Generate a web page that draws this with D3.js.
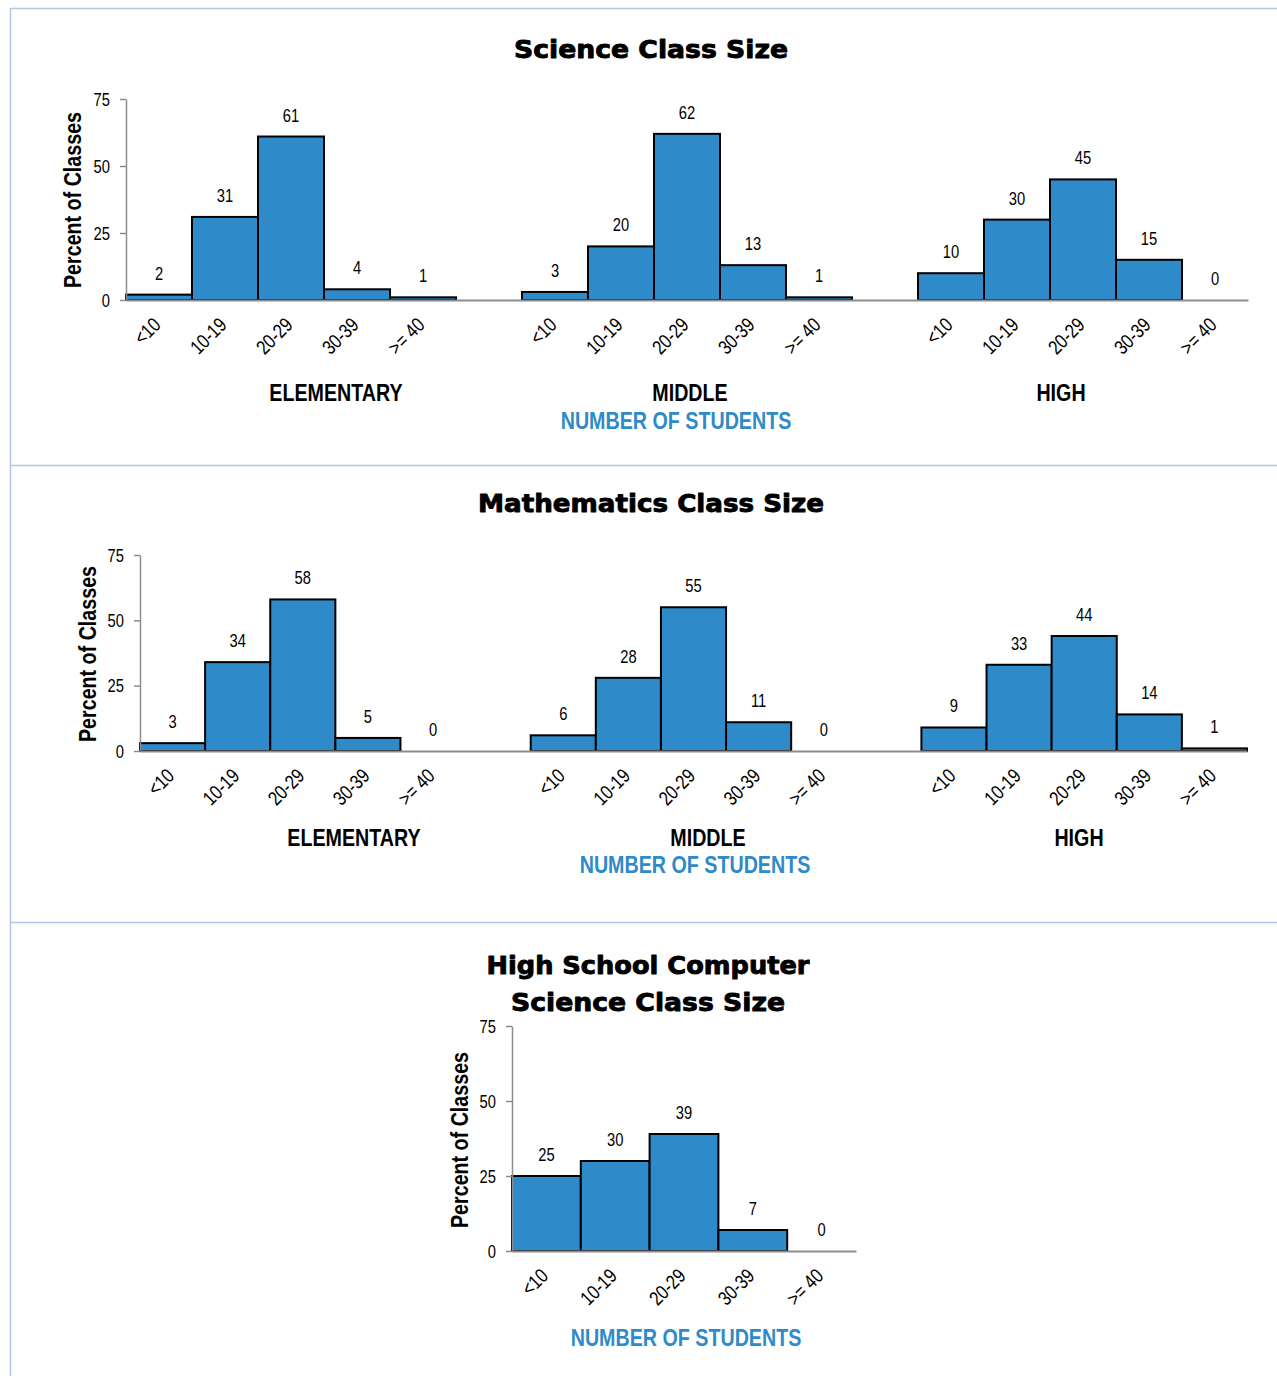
<!DOCTYPE html>
<html><head><meta charset="utf-8">
<script src="https://cdn.jsdelivr.net/npm/d3@7/dist/d3.min.js"></script>
<style>body{margin:0;background:#fff}</style>
</head><body><svg id="c" width="1277" height="1376"></svg>
<script>
// ---- data ----
const binLabels = ["<10", "10-19", "20-29", "30-39", ">= 40"];
const levelNames = ["ELEMENTARY", "MIDDLE", "HIGH"];
const scienceElementary = [2, 31, 61, 4, 1];
const scienceMiddle = [3, 20, 62, 13, 1];
const scienceHigh = [10, 30, 45, 15, 0];
const mathElementary = [3, 34, 58, 5, 0];
const mathMiddle = [6, 28, 55, 11, 0];
const mathHigh = [9, 33, 44, 14, 1];
const csHigh = [25, 30, 39, 7, 0];
const yTicks = [0, 25, 50, 75];
const yMax = 75;
const yTitle = "Percent of Classes";
const xTitle = "NUMBER OF STUDENTS";

// ---- style ----
const BAR = "#2e8ac8", AXIS = "#8c8c8c", FRAME = "#b4c6e7", BLUE = "#2e8ac8";
const NARROW = 0.82;
const FONT = "'Liberation Sans', Arial, sans-serif";
const TFONT = "'Arial Black', 'DejaVu Sans', sans-serif";

const svg = d3.select("#c");

// frame
svg.append("line").attr("x1", 10).attr("x2", 1277).attr("y1", 8.5).attr("y2", 8.5).attr("stroke", FRAME).attr("stroke-width", 1.5);
svg.append("line").attr("x1", 10.5).attr("x2", 10.5).attr("y1", 8).attr("y2", 1376).attr("stroke", FRAME).attr("stroke-width", 1.5);
[465.5, 922.5].forEach(yy => svg.append("line").attr("x1", 10).attr("x2", 1277).attr("y1", yy).attr("y2", yy).attr("stroke", FRAME).attr("stroke-width", 1.5));

function narrowText(g, x, y, txt, size, opts = {}) {
  const t = g.append("text")
    .attr("transform", `translate(${x},${y})${opts.rotate ? ` rotate(${opts.rotate})` : ""} scale(${NARROW},1)`)
    .attr("font-family", FONT).attr("font-size", size)
    .attr("font-weight", opts.bold ? "bold" : "normal")
    .attr("text-anchor", opts.anchor || "middle")
    .attr("fill", opts.fill || "#000")
    .text(txt);
  return t;
}

function drawChart(cfg) {
  const g = svg.append("g");
  const keys = [];
  cfg.groups.forEach((grp, gi) => {
    if (gi > 0) keys.push("gap" + gi);
    binLabels.forEach(b => keys.push(gi + "|" + b));
  });
  const bars = [];
  cfg.groups.forEach((grp, gi) => grp.values.forEach((v, i) => bars.push({ key: gi + "|" + binLabels[i], v })));

  const x = d3.scaleBand().domain(keys).range([cfg.x0, cfg.x1]).paddingInner(0).paddingOuter(0);
  const y = d3.scaleLinear().domain([0, yMax]).range([cfg.yBase, cfg.yTop]);

  // titles
  cfg.title.forEach((line, i) => {
    g.append("text").attr("x", cfg.titleX).attr("y", cfg.titleY[i])
      .attr("font-family", TFONT).attr("font-weight", "bold").attr("font-size", 25)
      .attr("text-anchor", "middle")
      .attr("stroke", "#000").attr("stroke-width", 0.9).attr("stroke-linejoin", "round")
      .attr("textLength", cfg.titleW[i]).attr("lengthAdjust", "spacingAndGlyphs")
      .text(line);
  });

  // bars
  g.selectAll("rect.bar").data(bars.filter(d => d.v > 0)).join("rect")
    .attr("class", "bar")
    .attr("x", d => x(d.key)).attr("width", x.bandwidth())
    .attr("y", d => y(d.v)).attr("height", d => y(0) - y(d.v))
    .attr("fill", BAR).attr("stroke", "#000").attr("stroke-width", 2);

  // x axis
  const xa = g.append("g").attr("transform", `translate(0,${cfg.yBase})`)
    .call(d3.axisBottom(x).tickSize(0).tickSizeOuter(0).tickFormat(k => k.startsWith("gap") ? "" : k.split("|")[1]));
  xa.select(".domain").attr("stroke", AXIS).attr("stroke-width", 2);
  xa.selectAll(".tick text")
    .attr("x", null).attr("y", null).attr("dy", null)
    .attr("transform", `translate(3,26) rotate(-45) scale(${NARROW},1)`)
    .attr("text-anchor", "end").attr("font-family", FONT).attr("font-size", 20).attr("fill", "#000");

  // y axis
  const ya = g.append("g").attr("transform", `translate(${cfg.x0},0)`)
    .call(d3.axisLeft(y).tickValues(yTicks).tickSize(6).tickSizeOuter(0).tickPadding(10));
  ya.select(".domain").attr("stroke", AXIS).attr("stroke-width", 1.5);
  ya.selectAll(".tick line").attr("stroke", AXIS).attr("stroke-width", 1.5);
  ya.selectAll(".tick text")
    .attr("x", -16 / NARROW).attr("dy", "0.34em")
    .attr("transform", `scale(${NARROW},1)`)
    .attr("font-family", FONT).attr("font-size", 18).attr("fill", "#000");

  // value labels
  bars.forEach(d => {
    narrowText(g, x(d.key) + x.bandwidth() / 2, y(d.v) - 15, String(d.v), 18);
  });

  // group labels
  cfg.groups.forEach((grp, gi) => {
    if (grp.name) narrowText(g, cfg.x0 + cfg.groupDx[gi], cfg.groupY, grp.name, 24, { bold: true });
  });
  narrowText(g, cfg.x0 + cfg.nosDx, cfg.nosY, xTitle, 24, { bold: true, fill: BLUE });

  // y title
  narrowText(g, cfg.yLabelX, cfg.yLabelY, yTitle, 24, { bold: true, rotate: -90 });
}

drawChart({
  title: ["Science Class Size"], titleX: 651, titleY: [58], titleW: [274],
  groups: [
    { name: levelNames[0], values: scienceElementary },
    { name: levelNames[1], values: scienceMiddle },
    { name: levelNames[2], values: scienceHigh }],
  x0: 126, x1: 1248, yTop: 99, yBase: 300,
  groupDx: [210, 564, 935], groupY: 401, nosDx: 550, nosY: 428.5,
  yLabelX: 81, yLabelY: 200
});

drawChart({
  title: ["Mathematics Class Size"], titleX: 651, titleY: [512], titleW: [346],
  groups: [
    { name: levelNames[0], values: mathElementary },
    { name: levelNames[1], values: mathMiddle },
    { name: levelNames[2], values: mathHigh }],
  x0: 140, x1: 1247, yTop: 555, yBase: 751,
  groupDx: [214, 568, 939], groupY: 845.5, nosDx: 555, nosY: 872.5,
  yLabelX: 96, yLabelY: 654
});

drawChart({
  title: ["High School Computer", "Science Class Size"], titleX: 648, titleY: [973.5, 1010.5], titleW: [323, 274],
  groups: [{ name: "", values: csHigh }],
  x0: 512, x1: 856, yTop: 1026, yBase: 1251,
  groupDx: [], groupY: 0, nosDx: 174, nosY: 1345.5,
  yLabelX: 468, yLabelY: 1140
});
</script></body></html>
